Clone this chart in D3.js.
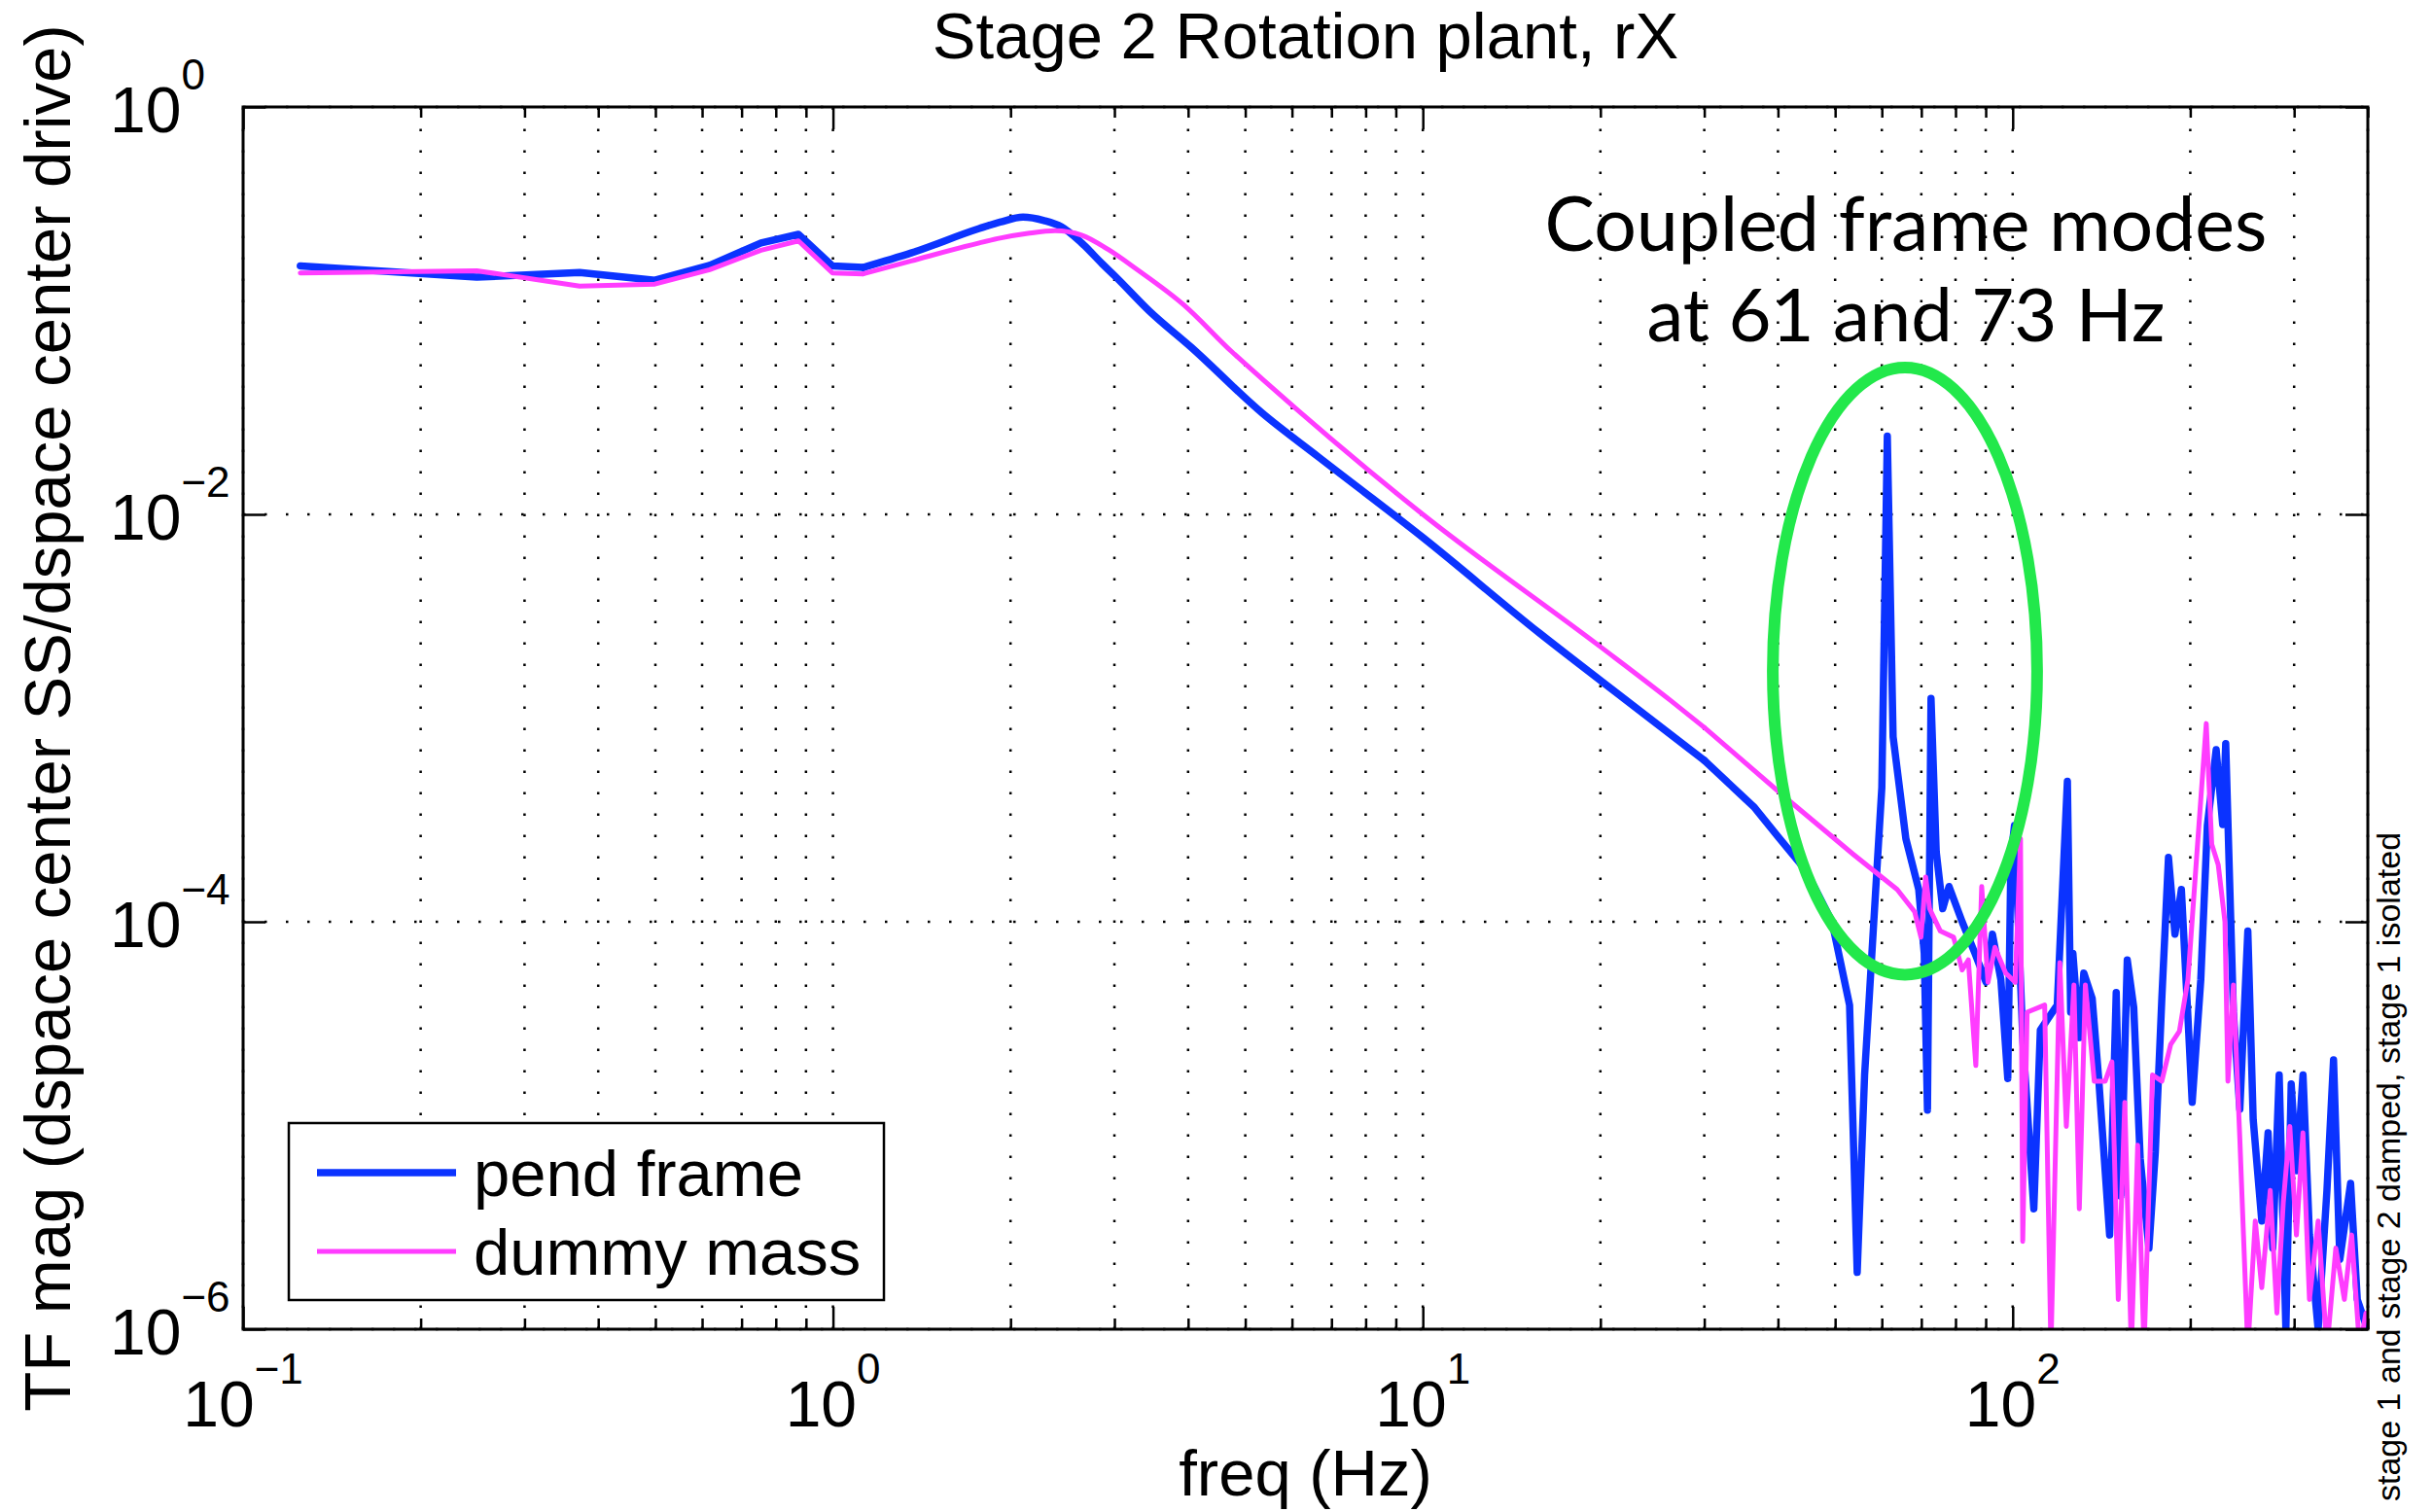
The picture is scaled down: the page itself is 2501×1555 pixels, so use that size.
<!DOCTYPE html>
<html>
<head>
<meta charset="utf-8">
<script src="https://d3js.org/d3.v7.min.js"></script>
<style>
  body { margin: 0; background: #fff; }
  text { font-family: "Liberation Sans", Arial, Helvetica, sans-serif; fill: #000; }
</style>
</head>
<body>
<svg id="vis"></svg>

<script>
  // ---- data (Hz, TF magnitude) ----
  var blueFreq = [0.125, 0.249, 0.372, 0.499, 0.618, 0.755, 0.874, 0.998, 1.125, 1.357, 1.77, 1.92, 2.10, 2.28, 2.44,
    2.64, 2.86, 3.02, 3.44, 4.04, 5.35, 6.66, 10.0, 15.8, 20.0, 30.0, 36.4, 40.0, 44.6, 49.4, 52.9, 54.5, 56.1, 58.5,
    60.0, 61.3, 62.7, 65.9, 69.3, 70.8, 71.7, 72.7, 74.2, 76.1, 78.0, 82.1, 86.3, 90.1, 92.4, 95.5, 98.1, 99.3, 100.7,
    104, 108.6, 111.4, 115.2, 119, 123.8, 125.4, 126.5, 129.7, 132, 136.4, 140, 146, 149.8, 152.5, 156.4, 160.4, 164.5,
    170.2, 174.5, 179, 183.7, 188.4, 193.2, 198.2, 201.5, 208.4, 213.8, 221.3, 227, 229.7, 232.8, 236.7, 242.7, 250.4,
    255.7, 264.4, 271, 276, 283, 290.5, 296.6, 302.9, 310.6, 318.5, 329.5, 341, 349.9, 358.6, 374, 383.9, 397];
  var blueMag = [0.166, 0.146, 0.154, 0.141, 0.167, 0.215, 0.237, 0.166, 0.163, 0.192, 0.253, 0.272, 0.288, 0.277, 0.258,
    0.215, 0.170, 0.146, 0.0995, 0.0665, 0.0313, 0.0191, 0.0077, 0.0026, 0.00153, 0.00062, 3.67e-4, 2.62e-4, 1.79e-4, 1.0e-4, 3.9e-5, 1.9e-6, 1.77e-5, 1.34e-4,
    4.56e-4, 0.0242, 8.1e-4, 2.56e-4, 1.44e-4, 7.0e-5, 1.19e-5, 1.25e-3, 2.2e-4, 1.16e-4, 1.49e-4, 1.0e-4, 7.0e-5, 5.06e-5, 8.7e-5, 5.2e-5, 1.7e-5, 2.06e-4, 2.97e-4,
    2.7e-5, 3.9e-6, 2.94e-5, 3.4e-5, 3.9e-5, 4.9e-4, 3.6e-5, 7.0e-5, 2.7e-5, 5.6e-5, 4.2e-5, 1.65e-5, 2.9e-6, 4.5e-5, 4.5e-6, 6.5e-5, 3.8e-5, 6.9e-6,
    2.5e-6, 7.4e-6, 4.2e-5, 2.07e-4, 8.7e-5, 1.44e-4, 3.4e-5, 1.3e-5, 5.2e-5, 2.97e-4, 7.0e-4, 3.0e-4, 7.5e-4, 1.9e-4, 3.6e-5, 1.2e-5, 9.0e-5,
    1.07e-5, 3.4e-6, 9.2e-6, 2.5e-6, 1.77e-5, 1.0e-6, 1.6e-5, 6.0e-6, 1.77e-5, 2.9e-6, 1.0e-6, 4.8e-6, 2.1e-5, 2.2e-6, 5.2e-6, 1.4e-6, 1.05e-6];

  var pinkFreq = [0.125, 0.249, 0.372, 0.499, 0.618, 0.755, 0.874, 0.998, 1.125, 1.357, 1.77, 1.92, 2.14, 2.38, 2.64,
    2.93, 3.27, 3.93, 4.74, 5.35, 10.0, 20.0, 26.3, 30.0, 41.7, 53.7, 63.7, 68.2, 69.9, 71.2, 72.3, 75.4, 79.4, 82.1,
    84.1, 86.6, 88.6, 90.8, 93.3, 97.3, 101, 103.1, 104, 105.8, 113.3, 116.1, 120.2, 123.3, 127, 129.7, 132.8, 137.5,
    143.5, 147.3, 151, 154.9, 158.9, 162.9, 167, 172.6, 179, 185.3, 191.7, 198.2, 205, 212.9, 217.5, 223.1, 229, 231.7,
    236.7, 242.7, 250.4, 257.8, 264.4, 273.3, 280.5, 287.6, 295, 302.7, 310.5, 318.5, 329.5, 341, 353, 365, 375.6, 387.5, 397];
  var pinkMag = [0.153, 0.157, 0.132, 0.135, 0.159, 0.198, 0.220, 0.153, 0.1515, 0.1755, 0.215, 0.227, 0.2395, 0.247, 0.235,
    0.1995, 0.160, 0.107, 0.063, 0.046, 0.0100, 0.00224, 0.00122, 9.0e-4, 3.95e-4, 2.14e-4, 1.44e-4, 1.12e-4, 8.4e-5, 1.66e-4, 1.16e-4, 9.0e-5, 8.4e-5, 5.8e-5,
    6.5e-5, 1.97e-5, 1.49e-4, 5.05e-5, 7.5e-5, 5.6e-5, 5.05e-5, 2.56e-4, 2.7e-6, 3.6e-5, 3.9e-5, 8e-7, 6.3e-5, 9.9e-6, 4.9e-5, 3.9e-6, 4.9e-5, 1.65e-5,
    1.65e-5, 2.05e-5, 1.4e-6, 1.3e-5, 8e-7, 8e-6, 8e-7, 1.77e-5, 1.65e-5, 2.5e-5, 2.9e-5, 5.2e-5, 2.06e-4, 9.4e-4, 2.4e-4, 1.9e-4, 1.0e-4, 1.65e-5,
    4.9e-5, 8.6e-6, 8e-7, 3.4e-6, 1.6e-6, 4.8e-6, 1.2e-6, 4.2e-6, 9.9e-6, 2.9e-6, 9.2e-6, 1.4e-6, 3.4e-6, 8e-7, 2.5e-6, 1.4e-6, 2.9e-6, 8e-7, 1.2e-6];

  var xMajor = [0.1, 1, 10, 100];
  var xMinor = [0.2, 0.3, 0.4, 0.5, 0.6, 0.7, 0.8, 0.9, 2, 3, 4, 5, 6, 7, 8, 9, 20, 30, 40, 50, 60, 70, 80, 90, 200, 300, 400];
  var yMajor = [1, 1e-2, 1e-4, 1e-6];
  var seriesNames = ['pend frame', 'dummy mass'];
  var seriesColors = ['#0b33ff', '#ff3cff'];
  var seriesWidths = [7.5, 5];

  // ellipse bounds and note anchor (freq, mag)
  var ringFreq = [39.2, 110];
  var ringMag = [5.5e-5, 0.0526];
  var noteLines = ['Coupled frame modes', 'at 61 and 73 Hz'];
  var noteFreq = 65.9;
  var noteMag = [0.197, 0.0705];

  var W = 2501, H = 1555;
  var L = 250, R = 2435, T = 110, B = 1367;

  var svg = d3.select('#vis').attr('width', W).attr('height', H);
  svg.append('rect').attr('width', W).attr('height', H).attr('fill', '#fff');

  var x = d3.scaleLog().domain([0.1, 400]).range([L, R]);
  var y = d3.scaleLog().domain([1e-6, 1]).range([B, T]);

  // dotted grid
  var grid = svg.append('g').attr('stroke', '#000').attr('stroke-width', 2.5).attr('stroke-dasharray', '2.5,19.5');
  grid.selectAll('.gx').data(xMajor.concat(xMinor)).enter().append('line')
      .attr('x1', function(d) {return x(d);}).attr('x2', function(d) {return x(d);})
      .attr('y1', B).attr('y2', T);
  grid.selectAll('.gy').data(yMajor).enter().append('line')
      .attr('x1', L).attr('x2', R)
      .attr('y1', function(d) {return y(d);}).attr('y2', function(d) {return y(d);});

  // ticks: bottom/top/left/right, pointing inward
  function tickAxis(axis, pos, vals, size) {
    var g = svg.append('g').attr('transform', pos)
        .call(axis.tickValues(vals).tickSize(size).tickFormat(''));
    g.select('.domain').remove();
    g.selectAll('line').attr('stroke', '#000').attr('stroke-width', 2.5);
  }
  tickAxis(d3.axisBottom(x), 'translate(0,' + B + ')', xMajor, -23);
  tickAxis(d3.axisBottom(x), 'translate(0,' + B + ')', xMinor, -11);
  tickAxis(d3.axisTop(x), 'translate(0,' + T + ')', xMajor, -23);
  tickAxis(d3.axisTop(x), 'translate(0,' + T + ')', xMinor, -11);
  tickAxis(d3.axisLeft(y), 'translate(' + L + ',0)', yMajor, -23);
  tickAxis(d3.axisRight(y), 'translate(' + R + ',0)', yMajor, -23);

  // lines: straight below ~1 Hz and above 30 Hz, smooth roll-off in between
  svg.append('clipPath').attr('id', 'clip').append('rect')
      .attr('x', L).attr('y', T).attr('width', R - L).attr('height', B - T);

  var smooth = d3.line().curve(d3.curveMonotoneX)
      .x(function(d) {return x(d[0]);})
      .y(function(d) {return y(d[1]);});
  var sharp = d3.line()
      .x(function(d) {return x(d[0]);})
      .y(function(d) {return y(d[1]);});

  var series = [
    blueFreq.map(function(f, i) {return [f, blueMag[i]];}),
    pinkFreq.map(function(f, i) {return [f, pinkMag[i]];})
  ];

  var plot = svg.append('g').attr('clip-path', 'url(#clip)');
  series.forEach(function(s, k) {
    var parts = [
      [s.filter(function(d) {return d[0] <= 1.125;}), sharp],
      [s.filter(function(d) {return d[0] >= 1.125 && d[0] <= 30;}), smooth],
      [s.filter(function(d) {return d[0] >= 30;}), sharp]
    ];
    parts.forEach(function(part) {
      plot.append('path').datum(part[0]).attr('d', part[1])
          .attr('fill', 'none').attr('stroke', seriesColors[k]).attr('stroke-width', seriesWidths[k])
          .attr('stroke-linejoin', 'round').attr('stroke-linecap', 'round');
    });
  });

  // frame
  svg.append('rect').attr('x', L).attr('y', T).attr('width', R - L).attr('height', B - T)
      .attr('fill', 'none').attr('stroke', '#000').attr('stroke-width', 3);

  // tick labels 10^n
  function expLabel(sel) {
    sel.append('tspan').attr('font-size', 66).text('10');
    sel.append('tspan').attr('font-size', 44).attr('dy', -44)
        .text(function(d) {var e = Math.round(Math.log10(d)); return e < 0 ? '\u2212' + (-e) : '' + e;});
  }
  svg.selectAll('.xl').data(xMajor).enter().append('text')
      .attr('x', function(d) {return x(d);}).attr('y', 1467)
      .attr('text-anchor', 'middle')
      .call(expLabel);
  svg.selectAll('.yl').data(yMajor).enter().append('text')
      .attr('x', 113).attr('y', function(d) {return y(d) + 26;})
      .call(expLabel);

  // titles
  svg.append('text').attr('x', (L + R) / 2).attr('y', 60).attr('text-anchor', 'middle')
      .attr('font-size', 67).text('Stage 2 Rotation plant, rX');
  svg.append('text').attr('x', (L + R) / 2).attr('y', 1538).attr('text-anchor', 'middle')
      .attr('font-size', 67).text('freq (Hz)');
  svg.append('text').attr('transform', 'translate(72,' + ((T + B) / 2) + ') rotate(-90)')
      .attr('text-anchor', 'middle').attr('font-size', 67)
      .text('TF mag (dspace center SS/dspace center drive)');
  svg.append('text').attr('transform', 'translate(2468,1544) rotate(-90)')
      .attr('font-size', 34).text('stage 1 and stage 2 damped, stage 1 isolated');

  // legend
  var lg = svg.append('g');
  lg.append('rect').attr('x', 297).attr('y', 1155).attr('width', 612).attr('height', 182)
      .attr('fill', '#fff').attr('stroke', '#000').attr('stroke-width', 2.5);
  var items = lg.selectAll('.li').data(seriesNames).enter().append('g')
      .attr('transform', function(d, i) {return 'translate(0,' + (1206 + i * 81) + ')';});
  items.append('line').attr('x1', 326).attr('x2', 469)
      .attr('stroke', function(d, i) {return seriesColors[i];})
      .attr('stroke-width', function(d, i) {return seriesWidths[i];});
  items.append('text').attr('x', 487).attr('y', 24).attr('font-size', 67).text(function(d) {return d;});

  // green ring + note
  var rx0 = x(ringFreq[0]), rx1 = x(ringFreq[1]);
  var ry0 = y(ringMag[1]), ry1 = y(ringMag[0]);
  svg.append('ellipse')
      .attr('cx', (rx0 + rx1) / 2).attr('cy', (ry0 + ry1) / 2)
      .attr('rx', (rx1 - rx0) / 2).attr('ry', (ry1 - ry0) / 2)
      .attr('fill', 'none').attr('stroke', '#22e84b').attr('stroke-width', 12);

  var noteWidths = [743, 533];
  noteLines.forEach(function(t, i) {
    var tx = svg.append('text').attr('x', x(noteFreq)).attr('y', y(noteMag[i]))
        .attr('text-anchor', 'middle').style('font-family', 'Lato, "Open Sans", sans-serif')
        .attr('font-size', 80).text(t);
    var w = tx.node().getComputedTextLength();
    tx.attr('font-size', 80 * noteWidths[i] / w);
  });
</script>
</body>
</html>
